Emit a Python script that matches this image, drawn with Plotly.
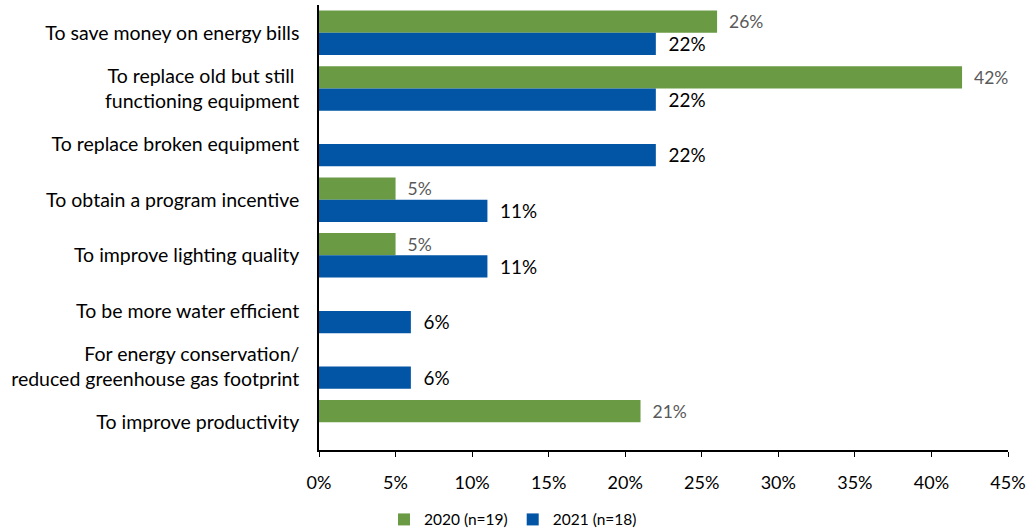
import plotly.graph_objects as go

categories = [
    "To save money on energy bills",
    "To replace old but still <br>functioning equipment",
    "To replace broken equipment",
    "To obtain a program incentive",
    "To improve lighting quality",
    "To be more water efficient",
    "For energy conservation/<br>reduced greenhouse gas footprint",
    "To improve productivity",
]
values_2020 = [26, 42, None, 5, 5, None, None, 21]
values_2021 = [22, 22, 22, 11, 11, 6, 6, None]
x_ticks = [0, 5, 10, 15, 20, 25, 30, 35, 40, 45]

GREEN = "#6a9a44"
BLUE = "#0255a5"
FONT = "Lato"


def labels(vals):
    return ["\u00a0\u00a0" + f"{v}%" if v is not None else "" for v in vals]


fig = go.Figure()
fig.add_trace(go.Bar(
    y=categories, x=values_2020, orientation="h", name="2020 (n=19)",
    marker=dict(color=GREEN, line=dict(width=0)),
    text=labels(values_2020), textposition="outside", cliponaxis=False,
    textfont=dict(family=FONT, size=17.5, color="#595959"),
))
fig.add_trace(go.Bar(
    y=categories, x=values_2021, orientation="h", name="2021 (n=18)",
    marker=dict(color=BLUE, line=dict(width=0)),
    text=labels(values_2021), textposition="outside", cliponaxis=False,
    textfont=dict(family=FONT, size=19.5, color="#000000"),
))

fig.update_layout(
    width=1026, height=531,
    margin=dict(l=319, r=18, t=5, b=81, autoexpand=False),
    barmode="group", bargap=0.2, bargroupgap=0,
    plot_bgcolor="white", paper_bgcolor="white",
    font=dict(family=FONT, size=19, color="#000000"),
    showlegend=True,
    legend=dict(orientation="h", x=0.5, xanchor="center", xref="container",
                y=0.021, yanchor="middle", yref="container",
                font=dict(size=15.5), traceorder="normal", itemwidth=30),
    uniformtext=dict(mode=False),
)
fig.update_xaxes(
    range=[0, 45], tickvals=x_ticks, ticktext=[f"{t}%" for t in x_ticks],
    showgrid=False, zeroline=False, showline=True, linecolor="black", linewidth=1.5,
    ticks="outside", ticklen=5, tickcolor="black", ticklabelstandoff=11,
    ticklabeloverflow="allow", tickfont=dict(size=18),
)
fig.update_yaxes(
    autorange="reversed", showgrid=False, showline=True, linecolor="black",
    linewidth=1.5, ticks="", ticklabelstandoff=14, tickfont=dict(size=19.5),
)

fig.write_html("out.html")
